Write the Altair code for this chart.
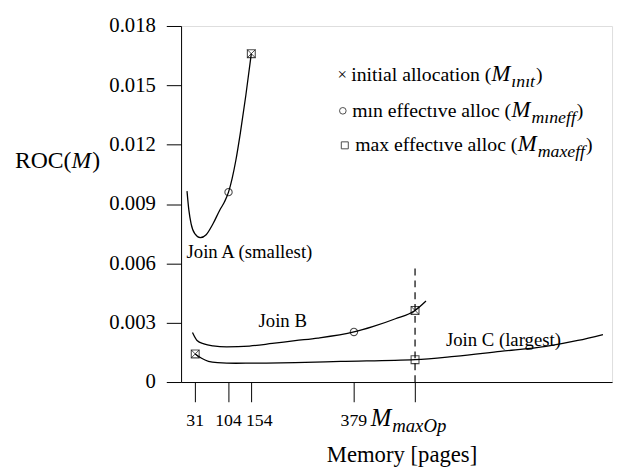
import altair as alt
import pandas as pd

# ---------------- data ----------------
a_x = [13, 17, 22, 30, 42, 55, 70, 85, 95, 104, 112, 120, 130, 142, 154]
a_y = [0.00965, 0.0087, 0.0080, 0.0075, 0.0073, 0.00745, 0.0080, 0.0087, 0.0091, 0.0096,
       0.0103, 0.0112, 0.0126, 0.0145, 0.0166]
b_x = [25, 35, 50, 70, 100, 150, 200, 250, 300, 379, 420, 470, 513, 537]
b_y = [0.0025, 0.0021, 0.00193, 0.00183, 0.00178, 0.00182, 0.00195, 0.00209,
       0.00222, 0.00253, 0.0028, 0.0032, 0.00362, 0.0041]
c_x = [31, 45, 60, 80, 120, 187, 250, 350, 513, 600, 700, 800, 870, 925]
c_y = [0.00142, 0.0012, 0.00105, 0.00098, 0.00095, 0.00096, 0.00098, 0.00104,
       0.00113, 0.0013, 0.00155, 0.0018, 0.0021, 0.0024]

circle_x = [104, 379]
circle_y = [0.0096, 0.00253]
square_x = [154, 513, 31, 513]
square_y = [0.0166, 0.00362, 0.00142, 0.00113]
cross_x = [154, 513, 31]
cross_y = [0.0166, 0.00362, 0.00142]

x_ticks = [31, 104, 154, 379, 513]
x_tick_labels = ["31", "104", "154", "379", ""]
y_ticks = [0, 0.003, 0.006, 0.009, 0.012, 0.015, 0.018]
M_MAXOP = 513

X_MAX = 945
Y_MAX = 0.018
W, H = 437, 361
SX = W / X_MAX
SY = H / Y_MAX
FONT = "Liberation Serif"

# Times metrics (per 1000 em) for laying out mixed-style text pieces
UP = {' ': 250, '(': 333, ')': 333, '.': 250, '[': 333, ']': 333, 'a': 444, 'b': 500,
      'c': 444, 'd': 500, 'e': 444, 'f': 333, 'g': 500, 'h': 500, 'i': 278, 'ı': 278,
      'j': 278, 'k': 500, 'l': 278, 'm': 778, 'n': 500, 'o': 500, 'p': 500, 'r': 333,
      's': 389, 't': 278, 'u': 500, 'v': 500, 'x': 500, 'y': 500, 'R': 667, 'O': 722,
      'C': 667, 'M': 889, 'A': 722, 'J': 389}
IT = {'M': 833, 'a': 500, 'x': 444, 'O': 722, 'p': 500, 'i': 278, 'ı': 278, 'n': 500,
      't': 278, 'e': 444, 'f': 278, 'm': 722}


def width(txt, size, italic):
    tbl = IT if italic else UP
    return sum(tbl.get(ch, 500) for ch in txt) * size / 1000.0


def pieces(x_data, y_data, parts):
    """parts: list of (text, size, italic, dy_px). Returns rows laid out left to right."""
    rows = []
    off = 0.0
    for txt, size, italic, dy in parts:
        rows.append({"x": x_data + off / SX, "y": y_data - dy / SY, "t": txt,
                     "s": size, "it": italic})
        off += width(txt, size, italic) + (1.0 if italic else 0.0)
    return rows


curves = pd.DataFrame(
    [{"m": x, "roc": y, "join": "A", "o": i} for i, (x, y) in enumerate(zip(a_x, a_y))]
    + [{"m": x, "roc": y, "join": "B", "o": i} for i, (x, y) in enumerate(zip(b_x, b_y))]
    + [{"m": x, "roc": y, "join": "C", "o": i} for i, (x, y) in enumerate(zip(c_x, c_y))]
)
circles = pd.DataFrame({"m": circle_x, "roc": circle_y})
squares = pd.DataFrame({"m": square_x, "roc": square_y})
crosses = pd.DataFrame({"m": cross_x, "roc": cross_y})

xs = alt.Scale(domain=[0, X_MAX], nice=False, zero=False)
ys = alt.Scale(domain=[0, Y_MAX], nice=False)

base = alt.Chart(curves).encode(
    x=alt.X("m:Q", scale=xs,
            axis=alt.Axis(values=x_ticks, labels=False, tickSize=20, tickColor="black",
                          domainColor="black", grid=False, title="Memory [pages]",
                          titleFont=FONT, titleFontSize=23, titleFontWeight="normal",
                          titleColor="black", titlePadding=42, titleX=W / 2 + 5)),
    y=alt.Y("roc:Q", scale=ys,
            axis=alt.Axis(values=y_ticks, tickSize=15, tickColor="black", domainColor="black",
                          grid=False, labelFont=FONT, labelFontSize=21, labelColor="black",
                          labelPadding=11,
                          labelExpr="datum.value == 0 ? '0' : format(datum.value, '.3f')",
                          title=None)),
)

lines = base.mark_line(color="black", strokeWidth=1.3, interpolate="monotone").encode(
    detail="join:N", order="o:Q")

circ = alt.Chart(circles).mark_point(shape="circle", filled=False, color="black",
                                     size=55, strokeWidth=1.1).encode(x="m:Q", y="roc:Q")
sq = alt.Chart(squares).mark_point(shape="square", filled=False, color="black",
                                   size=64, strokeWidth=1.1).encode(x="m:Q", y="roc:Q")
cr = alt.Chart(crosses).mark_point(shape="M-1,-1L1,1M1,-1L-1,1", filled=False, color="black",
                                   size=64, strokeWidth=1.0).encode(x="m:Q", y="roc:Q")

dash = alt.Chart(pd.DataFrame({"m": [M_MAXOP], "y0": [0.0], "y1": [0.0059]})).mark_rule(
    color="black", strokeDash=[7, 5], strokeWidth=1.2).encode(x="m:Q", y="y0:Q", y2="y1:Q")


def px2x(px):
    return (px - 183.5) / SX


def py2y(py):
    return (384.0 - py) / SY


rows = []
# annotations
rows += pieces(px2x(189), py2y(258), [("Join A (smallest)", 19, False, 0)])
rows += pieces(px2x(262), py2y(328), [("Join B", 19, False, 0)])
rows += pieces(px2x(452), py2y(347), [("Join C (largest)", 19, False, 0)])
# legend
rows += pieces(px2x(342), py2y(78), [("×", 17, False, 0)])
rows += pieces(px2x(356), py2y(79), [("initial allocation (", 20, False, 0), ("M", 23, True, 0),
                                     ("ınıt", 18, True, 6), (")", 20, False, 0)])
rows += pieces(px2x(357), py2y(115), [("mın effectıve alloc (", 20, False, 0), ("M", 23, True, 0),
                                      ("mıneff", 18, True, 6), (")", 20, False, 0)])
rows += pieces(px2x(360), py2y(150), [("max effectıve alloc (", 20, False, 0), ("M", 23, True, 0),
                                      ("maxeff", 18, True, 6), (")", 20, False, 0)])
# x tick labels
for v, lab in zip(x_ticks, x_tick_labels):
    if lab:
        shift = 8 if v == 154 else 0
        rows.append({"x": v + (shift - width(lab, 18, False) / 2) / SX, "y": py2y(429),
                     "t": lab, "s": 18, "it": False})
rows += pieces(M_MAXOP - 45 / SX, py2y(429), [("M", 25, True, 0), ("maxOp", 19, True, 6)])
# y title
rows += pieces(px2x(15), py2y(167), [("ROC(", 24, False, 0), ("M", 24, True, 0), (")", 24, False, 0)])

ann = pd.DataFrame(rows)
txt_up = alt.Chart(ann).transform_filter("!datum.it").mark_text(
    align="left", baseline="alphabetic", font=FONT, color="black").encode(
    x=alt.X("x:Q", scale=xs), y=alt.Y("y:Q", scale=ys), text="t:N",
    size=alt.Size("s:Q", scale=None))
txt_it = alt.Chart(ann).transform_filter("datum.it").mark_text(
    align="left", baseline="alphabetic", font=FONT, fontStyle="italic", color="black").encode(
    x=alt.X("x:Q", scale=xs), y=alt.Y("y:Q", scale=ys), text="t:N",
    size=alt.Size("s:Q", scale=None))

legsym = pd.DataFrame({"x": [px2x(347.5), px2x(349.5)], "y": [py2y(109), py2y(144)]})
leg_c = alt.Chart(legsym.iloc[[0]]).mark_point(shape="circle", filled=False, color="black",
                                                size=45, strokeWidth=1.0).encode(
    x=alt.X("x:Q", scale=xs), y=alt.Y("y:Q", scale=ys))
leg_s = alt.Chart(legsym.iloc[[1]]).mark_point(shape="square", filled=False, color="black",
                                                size=50, strokeWidth=1.0).encode(
    x=alt.X("x:Q", scale=xs), y=alt.Y("y:Q", scale=ys))

chart = alt.layer(lines, circ, sq, cr, dash, txt_up, txt_it, leg_c, leg_s).properties(
    width=W, height=H,
    autosize=alt.AutoSizeParams(type="none"),
    padding={"left": 175.5, "top": 15, "right": 5, "bottom": 90},
).configure_view(stroke="black", strokeWidth=1.2).configure(background="white")

chart.save("out.html", embed_options={"renderer": "svg", "actions": False})
